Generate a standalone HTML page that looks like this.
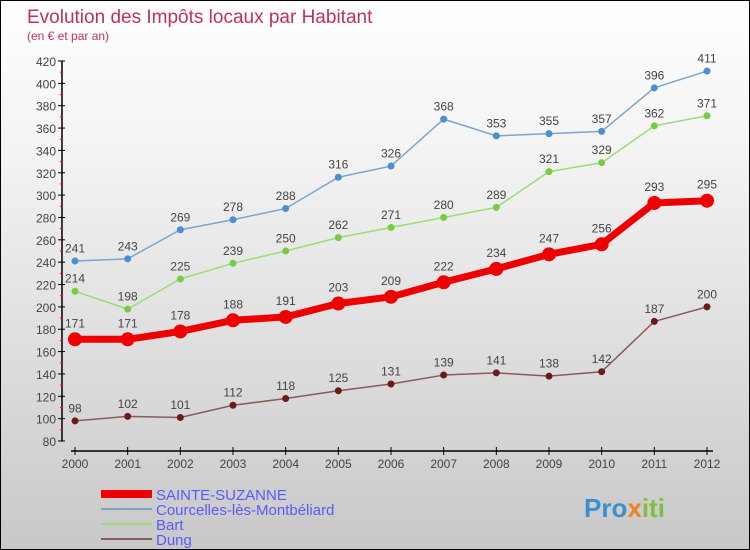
<!DOCTYPE html>
<html><head><meta charset="utf-8"><style>
body{margin:0}
#c{width:748px;height:548px;border:1px solid #000;background:linear-gradient(#fff,#f2f2f2 30%,#c8c8c8);position:relative;font-family:"Liberation Sans",sans-serif;overflow:hidden}
</style></head><body>
<div id="c">
<svg id="s" width="748" height="548" xmlns="http://www.w3.org/2000/svg">
<text x="26" y="22" font-size="19" fill="#c0305f">Evolution des Impôts locaux par Habitant</text>
<text x="26" y="39" font-size="12" fill="#c0305f">(en € et par an)</text>
<g id="axes"></g><g id="marks"></g>
<g>
<rect x="100" y="489" width="51" height="8" fill="#e00"/>
<text x="155" y="499" font-size="15" fill="#5a5aff">SAINTE-SUZANNE</text>
<rect x="100" y="507" width="51" height="2" fill="#7aa6cc"/>
<text x="155" y="514" font-size="15" fill="#5a5aff">Courcelles-lès-Montbéliard</text>
<rect x="100" y="522" width="51" height="2" fill="#99dd77"/>
<text x="155" y="529" font-size="15" fill="#5a5aff">Bart</text>
<rect x="100" y="537" width="51" height="2" fill="#8b5a5a"/>
<text x="155" y="544" font-size="15" fill="#5a5aff">Dung</text>
</g>
<text x="583" y="516" font-size="26" font-weight="bold"><tspan fill="#3a8fd0">Pro</tspan><tspan fill="#f08020">x</tspan><tspan fill="#7cc040">iti</tspan></text>
</svg></div>
<script>
const years=[2000,2001,2002,2003,2004,2005,2006,2007,2008,2009,2010,2011,2012];
const sainte=[171,171,178,188,191,203,209,222,234,247,256,293,295];
const courcelles=[241,243,269,278,288,316,326,368,353,355,357,396,411];
const bart=[214,198,225,239,250,262,271,280,289,321,329,362,371];
const dung=[98,102,101,112,118,125,131,139,141,138,142,187,200];
const yTicks=[80,100,120,140,160,180,200,220,240,260,280,300,320,340,360,380,400,420];
const NS="http://www.w3.org/2000/svg";
const X=i=>74+i*(706-74)/(years.length-1);
const Y=v=>440-(v-80)*380/340;
function el(t,a,p){const e=document.createElementNS(NS,t);for(const k in a)e.setAttribute(k,a[k]);p.appendChild(e);return e;}
const ax=document.getElementById('axes'),mk=document.getElementById('marks');
const ya=el('line',{x1:61,y1:60,x2:61,y2:440,stroke:'#000','stroke-width':1.5},ax);


const yMax=yTicks[yTicks.length-1];
yTicks.forEach(v=>{
 el('line',{x1:57,x2:64,y1:Y(v),y2:Y(v),stroke:'#000'},ax);
 if(v<yMax) el('line',{x1:59,x2:62,y1:Y(v+10),y2:Y(v+10),stroke:'#f00'},ax);
 const t=el('text',{x:55,y:Y(v)+5,'font-size':12,fill:'#444','text-anchor':'end'},ax);t.textContent=v;
 
 
});
const xa=el('line',{x1:70,y1:450,x2:712,y2:450,stroke:'#000','stroke-width':1.5},ax);


years.forEach((yr,i)=>{
 el('line',{x1:X(i),x2:X(i),y1:446,y2:454,stroke:'#000'},ax);
 const t=el('text',{x:X(i),y:467,'font-size':12,fill:'#444','text-anchor':'middle'},ax);t.textContent=yr;
 
 
});
function series(d,name,col,w,r,dot){
 const g=el('g',{},mk);
 
 
 el('polyline',{points:d.map((v,i)=>X(i)+','+Y(v)).join(' '),fill:'none',stroke:col,'stroke-width':w,'stroke-linejoin':'round'},g);
 d.forEach((v,i)=>{
  const c=el('circle',{cx:X(i),cy:Y(v),r:r,fill:dot},g);
  
  
  const t=el('text',{x:X(i),y:Y(v)-(r+5),'font-size':12,fill:'#444','text-anchor':'middle'},g);t.textContent=v;
  
  
 });
}
series(dung,'dung','#8b5a5a',1.5,3.5,'#6b1a1a');
series(bart,'bart','#99dd77',1.5,3.5,'#77cc44');
series(courcelles,'courcelles','#7aa6cc',1.5,3.5,'#4a90d0');
series(sainte,'sainte-suzanne','#e00',7,7,'#e00');
</script>
</body></html>
